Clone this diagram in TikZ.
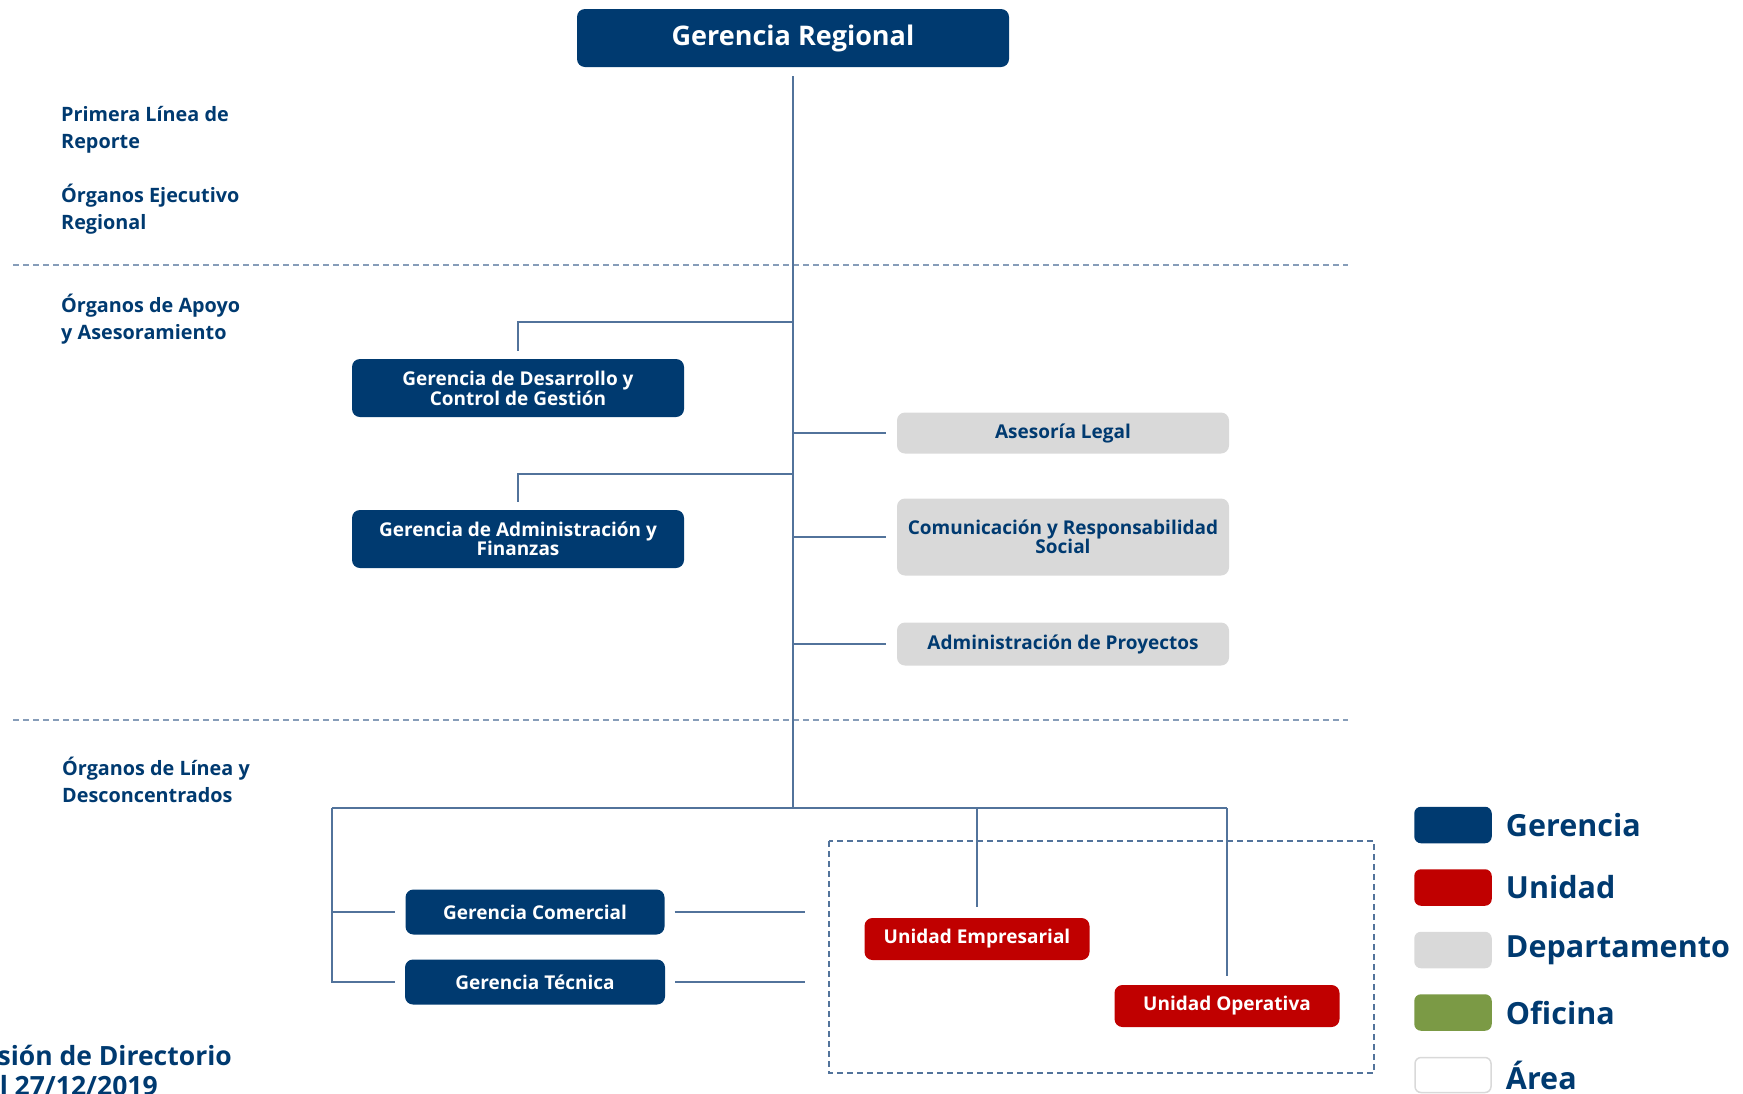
\documentclass[tikz,border=0pt]{standalone}
\usepackage{fontspec}
\setmainfont{Open Sans}
\usetikzlibrary{positioning}
\definecolor{navy}{HTML}{003A70}
\definecolor{rojo}{HTML}{C00000}
\definecolor{gris}{HTML}{D9D9D9}
\definecolor{verde}{HTML}{7B9A45}
\definecolor{linea}{HTML}{52739B}
\tikzset{
  box/.style={rounded corners=8pt, inner sep=0pt, align=center,
    font=\fontsize{19}{19}\selectfont\bfseries},
  gerencia/.style={box, fill=navy, text=white},
  unidad/.style={box, fill=rojo, text=white},
  depto/.style={box, fill=gris, text=navy},
  lbl/.style={anchor=west, align=left, inner sep=0pt, text=navy,
    font=\fontsize{19.8}{27}\selectfont\bfseries},
  conn/.style={draw=linea, line width=1.3pt},
  sep/.style={draw=linea!70, line width=1.2pt, dash pattern=on 6pt off 4pt},
  swatch/.style={rounded corners=6pt, minimum width=76pt, minimum height=35pt,
    inner sep=0pt, line width=1.5pt},
  legtxt/.style={text=navy, inner sep=0pt, font=\fontsize{30.5}{31}\selectfont\bfseries}
}

\begin{document}
\begin{tikzpicture}[x=1pt,y=-1pt]
  \useasboundingbox (0,0) rectangle (1743,1093);

  % separators between levels
  \draw[sep] (13,265) -- (1348,265);
  \draw[sep] (13,720) -- (1348,720);
  \draw[sep, draw=linea] (829,841) rectangle (1374,1073);

  % level labels
  \node[lbl] (prim) at (61,129.5) {Primera Línea de\\Reporte};
  \node[lbl] (ejec) at (61,209) {Órganos Ejecutivo\\Regional};
  \node[lbl] (apoyo) at (61,319.5) {Órganos de Apoyo\\y Asesoramiento};
  \node[lbl] (linea) at (62,779.5) {Órganos de Línea y\\Desconcentrados};
  \node[lbl, anchor=east, font=\fontsize{26.5}{30}\selectfont\bfseries] (acta) at (232,1070)
    {Sesión de Directorio\\del 27/12/2019};

  % boxes
  \node[gerencia, minimum width=432pt, minimum height=58pt,
    font=\fontsize{27}{30}\selectfont\bfseries] (gr) at (793,38) {Gerencia Regional};
  \node[gerencia, minimum width=332pt, minimum height=58pt] (gdc) at (518,388)
    {Gerencia de Desarrollo y\\Control de Gestión};
  \node[gerencia, minimum width=332pt, minimum height=58pt] (gaf) at (518,539)
    {Gerencia de Administración y\\Finanzas};
  \node[depto, minimum width=332pt, minimum height=41pt] (al) at (1063,433) {Asesoría Legal};
  \node[depto, minimum width=332pt, minimum height=77pt] (crs) at (1063,537)
    {Comunicación y Responsabilidad\\Social};
  \node[depto, minimum width=332pt, minimum height=43pt] (ap) at (1063,644)
    {Administración de Proyectos};
  \node[gerencia, minimum width=259pt, minimum height=45pt] (gc) at (535,912) {Gerencia Comercial};
  \node[gerencia, minimum width=260pt, minimum height=45pt] (gt) at (535,982) {Gerencia Técnica};
  \node[unidad, minimum width=225pt, minimum height=42pt] (ue) at (977,939) {Unidad Empresarial};
  \node[unidad, minimum width=225pt, minimum height=42pt] (uo) at (1227,1006) {Unidad Operativa};

  % trunk and branches
  \coordinate (bus) at (793,808);
  \coordinate (j1) at (793,322);
  \coordinate (j2) at (793,474);
  \coordinate (bl) at (332,808);
  \coordinate (br) at (1227,808);
  \draw[conn, shorten <=9pt] (gr.south) -- (bus);
  \draw[conn, shorten >=8pt] (j1) -| (gdc.north);
  \draw[conn, shorten >=8pt] (j2) -| (gaf.north);
  \foreach \d in {al,crs,ap}
    \draw[conn, shorten >=11pt] (bus |- \d.west) -- (\d.west);
  \draw[conn] (bl) -- (br);
  \draw[conn, shorten >=10pt] (bl) |- (gt.west);
  \draw[conn, shorten >=10pt] (bl |- gc.west) -- (gc.west);
  \draw[conn] ([xshift=10pt]gc.east) -- ++(130,0);
  \draw[conn] ([xshift=10pt]gt.east) -- ++(130,0);
  \draw[conn, shorten >=11pt] (ue.north |- bus) -- (ue.north);
  \draw[conn, shorten >=9pt] (br) -- (uo.north);

  % legend
  \foreach \c/\b/\t [count=\i from 0] in {navy/navy/Gerencia, rojo/rojo/Unidad,
      gris/gris/Departamento, verde/verde/Oficina, white/gris/Área} {
    \node[swatch, fill=\c, draw=\b] (sw\i) at (1453,825+62.5*\i) {};
    \node[legtxt, right=14pt of sw\i] (lt\i) {\t};
  }
\end{tikzpicture}
\end{document}
